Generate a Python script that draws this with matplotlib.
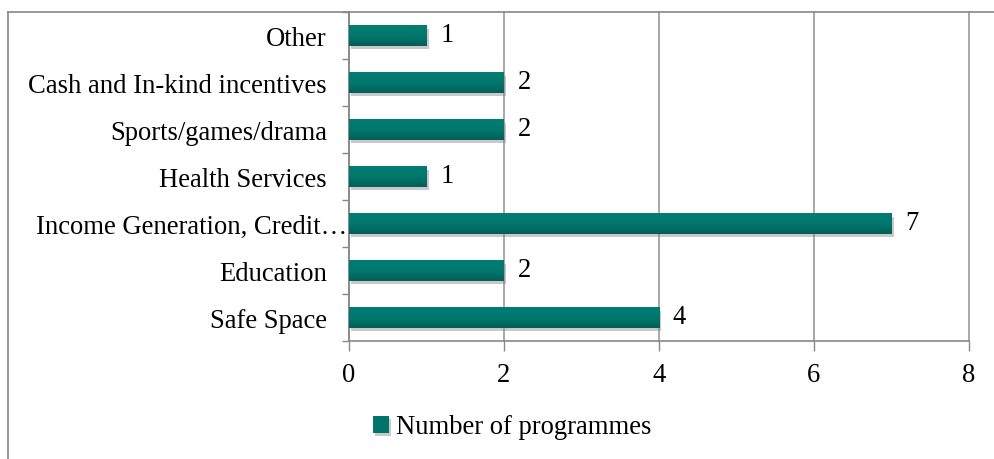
import matplotlib
matplotlib.use("Agg")
import matplotlib.pyplot as plt
import matplotlib.patheffects as pe
import matplotlib.transforms as mtransforms
from matplotlib.lines import Line2D
from matplotlib.colors import LinearSegmentedColormap
import numpy as np

categories = ["Safe Space", "Education", "Income Generation, Credit\u2026",
              "Health Services", "Sports/games/drama",
              "Cash and In-kind incentives", "Other"]
values = [4, 2, 7, 1, 2, 2, 1]
series_name = "Number of programmes"
xticks = [0, 2, 4, 6, 8]

plt.rcParams['font.family'] = ['Liberation Serif', 'DejaVu Serif']
FS = 19.2

fig = plt.figure(figsize=(9.95, 4.6), dpi=100)
ax = fig.add_axes([349/995, 1-342/460, (969-349)/995, (342-13)/460])

y = np.arange(len(categories))
bars = ax.barh(y, values, height=0.43, color="#00736A", label=series_name,
               zorder=3,
               path_effects=[pe.SimplePatchShadow(offset=(1.5, -2.5), shadow_rgbFace="#888888", alpha=0.45),
                             pe.Normal()])

# vertical gradient inside each bar
cmap = LinearSegmentedColormap.from_list("tg", ["#005F57", "#00786E", "#007D73"])
grad = np.linspace(0, 1, 64).reshape(-1, 1)
for b in bars:
    x0, y0, w, h = b.get_x(), b.get_y(), b.get_width(), b.get_height()
    im = ax.imshow(grad, cmap=cmap, aspect="auto", origin="lower",
                   extent=(x0, x0 + w, y0, y0 + h), zorder=4)
    im.set_clip_path(b)

for yi, v in zip(y, values):
    ax.annotate(str(v), (v, yi), xytext=(10, 1), textcoords="offset points",
                va="center", ha="left", fontsize=FS, color="black")

ax.set_xlim(0, 8)
ax.set_ylim(-0.5, len(categories) - 0.5)
ax.set_xticks(xticks)
ax.set_xticklabels([str(t) for t in xticks], fontsize=FS)
ax.set_yticks(y)
ax.set_yticklabels(categories, fontsize=FS)
ax.set_yticks(np.arange(-0.5, len(categories), 1), minor=True)
ax.tick_params(axis="y", which="major", length=0, pad=16)
ax.tick_params(axis="y", which="minor", length=5, color="#888888", width=1)
ax.tick_params(axis="x", which="major", length=7, color="#888888", width=1, pad=8)

# the truncated label sits further right (as in the original)
lab = ax.get_yticklabels()[2]
lab.set_transform(lab.get_transform() +
                  mtransforms.ScaledTranslation(20/100, 0, fig.dpi_scale_trans))

ax.grid(axis="x", color="#999999", linewidth=1.2, zorder=0, clip_on=False)
ax.set_axisbelow(True)
for s in ["top", "right"]:
    ax.spines[s].set_visible(False)
for s in ["left", "bottom"]:
    ax.spines[s].set_color("#888888")
    ax.spines[s].set_linewidth(1.2)

# chart border
fig.add_artist(Line2D([8/995, 8/995], [0, 1-13/460], transform=fig.transFigure,
                      color="#888888", linewidth=1.2))
fig.add_artist(Line2D([8/995, 1], [1-13/460, 1-13/460], transform=fig.transFigure,
                      color="#888888", linewidth=1.2))

leg = fig.legend(handles=[bars], labels=[series_name], loc="center",
                 bbox_to_anchor=(512/995, 1-428/460), frameon=False,
                 fontsize=FS, handlelength=0.6, handleheight=0.6,
                 handletextpad=0.25)

fig.savefig("out.png", dpi=100)
